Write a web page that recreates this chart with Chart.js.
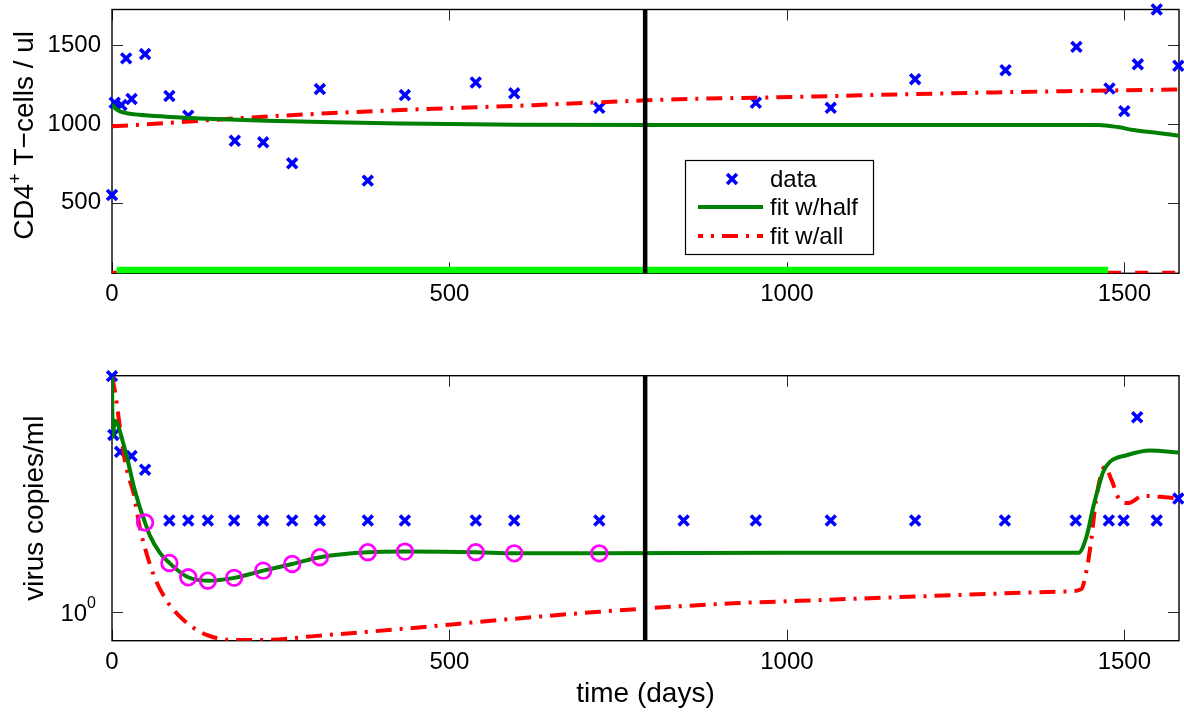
<!DOCTYPE html>
<html>
<head>
<meta charset="utf-8">
<title>CD4 and virus fits</title>
<script src="https://cdn.jsdelivr.net/npm/chart.js@4.4.1/dist/chart.umd.min.js"></script>
<style>
  body { margin: 0; background: #fff; }
  .panel { position: absolute; left: 0; }
</style>
</head>
<body>
<canvas id="cd4" class="panel" width="1184" height="340" style="top:0"></canvas>
<canvas id="virus" class="panel" width="1184" height="375" style="top:340px"></canvas>
<script>
// ---- values ----
const dayTicks = [0, 500, 1000, 1500];
const dayMax = 1581;
const splitDay = 790;        // black line: end of the "half" data
const therapyStart = 7;
const therapyEnd = 1476;

const cd4Ticks = [500, 1000, 1500];
const cd4Range = [52, 1726];
const cd4Days = [0, 4, 14, 21, 29, 49, 85, 113, 182, 224, 267, 308, 379, 434, 539, 596, 722, 954, 1065, 1190, 1324, 1429, 1478, 1500, 1520, 1548, 1580];
const cd4Vals = [549, 1134, 1120, 1416, 1158, 1443, 1177, 1052, 893, 883, 750, 1221, 640, 1183, 1263, 1194, 1102, 1134, 1102, 1284, 1341, 1489, 1225, 1081, 1378, 1726, 1369];
const cd4HalfDays = [0, 5, 12, 22, 40, 80, 130, 229, 328, 427, 600, 800, 1000, 1200, 1400, 1462, 1490, 1514, 1550, 1581];
const cd4HalfVals = [1122, 1098, 1080, 1068, 1058, 1046, 1035, 1020, 1010, 1003, 994, 993, 993, 993, 993, 993, 980, 961, 942, 925];
const cd4AllDays = [0, 50, 130, 250, 427, 624, 822, 1019, 1217, 1414, 1581];
const cd4AllVals = [985, 997, 1020, 1052, 1088, 1119, 1154, 1172, 1192, 1208, 1218];

const virusTicks = [1];
const virusRange = [0.848, 3.93];
const virusDays = [0, 2, 12, 29, 49, 85, 113, 142, 181, 224, 267, 308, 379, 434, 539, 596, 722, 847, 954, 1065, 1190, 1323, 1428, 1477, 1499, 1519, 1548, 1580];
const virusVals = [3.92, 2.79, 2.53, 2.47, 2.28, 1.7, 1.7, 1.7, 1.7, 1.7, 1.7, 1.7, 1.7, 1.7, 1.7, 1.7, 1.7, 1.7, 1.7, 1.7, 1.7, 1.7, 1.7, 1.7, 1.7, 3.09, 1.7, 1.93];
const censoredDays = [49, 85, 113, 142, 181, 224, 267, 308, 379, 434, 539, 596, 722];
const censoredFit = [1.68, 1.33, 1.224, 1.2, 1.22, 1.272, 1.322, 1.375, 1.415, 1.42, 1.415, 1.406, 1.406];
const virusHalfDays = [0, 1, 4, 8, 14, 22, 32, 41, 49, 56, 71, 85, 96, 113, 142, 181, 224, 267, 308, 379, 434, 539, 596, 722, 1000, 1432, 1444, 1454, 1462, 1469, 1479, 1503, 1538, 1581];
const virusHalfVals = [3.9, 2.76, 3.03, 2.98, 2.76, 2.46, 2.08, 1.84, 1.68, 1.56, 1.41, 1.33, 1.28, 1.224, 1.2, 1.22, 1.272, 1.322, 1.375, 1.415, 1.42, 1.415, 1.406, 1.406, 1.41, 1.41, 1.55, 1.84, 2.07, 2.26, 2.39, 2.48, 2.55, 2.52];
const virusAllDays = [0, 4, 12, 19, 26, 32, 41, 61, 81, 106, 140, 180, 229, 303, 427, 575, 723, 920, 1019, 1217, 1414, 1436, 1445, 1451, 1458, 1466, 1471, 1481, 1493, 1505, 1528, 1553, 1581];
const virusAllVals = [3.9, 3.62, 2.9, 2.41, 2.15, 1.99, 1.64, 1.25, 1.07, 0.956, 0.877, 0.852, 0.852, 0.872, 0.907, 0.956, 1.003, 1.053, 1.068, 1.099, 1.127, 1.142, 1.3, 1.52, 1.915, 2.235, 2.32, 2.15, 1.915, 1.88, 1.96, 1.95, 1.93];

const legendLabels = ["data", "fit w/half", "fit w/all"];

// ---- styling ----
const FONT = "'Liberation Sans', Arial, sans-serif";
const BLUE = "#0000ff", GREEN = "#008000", RED = "#ff0000", LIME = "#00ff00", MAGENTA = "#ff00ff";
const DASHDOT = [16, 8, 3, 8];

const pts = (xs, ys) => xs.map((x, i) => ({ x: x, y: ys[i] }));

function lineSet(data, color, width, dash) {
  return {
    data: data, borderColor: color, borderWidth: width, borderDash: dash || [],
    pointRadius: 0, showLine: true, fill: false, cubicInterpolationMode: "monotone", clip: 0
  };
}
function crossSet(data) {
  return {
    data: data, showLine: false, pointStyle: "crossRot", pointRadius: 7,
    pointBorderWidth: 3.6, pointBorderColor: BLUE, pointBackgroundColor: BLUE, clip: false
  };
}

// box with inward ticks on all four sides (matlab style)
function framePlugin(yTicks) {
  return {
    id: "frame",
    beforeDatasetsDraw(chart) {
      const ctx = chart.ctx, a = chart.chartArea, sx = chart.scales.x, sy = chart.scales.y;
      ctx.save();
      ctx.strokeStyle = "#262626";
      ctx.lineWidth = 1;
      ctx.beginPath();
      dayTicks.forEach(v => {
        const p = Math.round(sx.getPixelForValue(v)) + 0.5;
        ctx.moveTo(p, a.bottom); ctx.lineTo(p, a.bottom - 11);
        ctx.moveTo(p, a.top); ctx.lineTo(p, a.top + 11);
      });
      yTicks.forEach(v => {
        const p = Math.round(sy.getPixelForValue(v)) + 0.5;
        ctx.moveTo(a.left, p); ctx.lineTo(a.left + 11, p);
        ctx.moveTo(a.right, p); ctx.lineTo(a.right - 11, p);
      });
      ctx.stroke();
      ctx.strokeStyle = "#000";
      ctx.lineWidth = 1.4;
      ctx.strokeRect(a.left, a.top, a.right - a.left, a.bottom - a.top);
      ctx.restore();
    }
  };
}

function xScale(height, showLabels) {
  return {
    type: "linear", min: 0, max: dayMax,
    grid: { display: false, drawTicks: false }, border: { display: false },
    afterBuildTicks: s => { s.ticks = dayTicks.map(v => ({ value: v })); },
    afterFit: s => { s.height = height; s.paddingLeft = 0; s.paddingRight = 0; },
    ticks: { display: showLabels, color: "#000", padding: 7, maxRotation: 0, autoSkip: false,
             font: { family: FONT, size: 24 }, callback: v => String(v) }
  };
}

function yScale(type, range, ticks, showLabels) {
  return {
    type: type, min: range[0], max: range[1],
    grid: { display: false, drawTicks: false }, border: { display: false },
    afterBuildTicks: s => { s.ticks = ticks.map(v => ({ value: v })); },
    afterFit: s => { s.width = 112; s.paddingTop = 0; s.paddingBottom = 0; },
    ticks: { display: showLabels, color: "#000", padding: 11, autoSkip: false,
             font: { family: FONT, size: 24 }, callback: v => String(v) }
  };
}

// ---- top panel: CD4 ----
const cd4Titles = {
  id: "cd4Titles",
  afterDraw(chart) {
    const ctx = chart.ctx, a = chart.chartArea;
    ctx.save();
    ctx.fillStyle = "#000";
    ctx.translate(33, (a.top + a.bottom) / 2 - 6);
    ctx.rotate(-Math.PI / 2);
    ctx.textBaseline = "alphabetic";
    ctx.textAlign = "left";
    const big = "28px " + FONT, small = "18px " + FONT;
    ctx.font = big; const w1 = ctx.measureText("CD4").width;
    ctx.font = small; const w2 = ctx.measureText("+").width;
    ctx.font = big; const w3 = ctx.measureText(" T\u2212cells / ul").width;
    let x0 = -(w1 + w2 + w3) / 2;
    ctx.font = big; ctx.fillText("CD4", x0, 0);
    ctx.font = small; ctx.fillText("+", x0 + w1, -12);
    ctx.font = big; ctx.fillText(" T\u2212cells / ul", x0 + w1 + w2, 0);
    ctx.restore();
  }
};

const cd4Legend = {
  id: "cd4Legend",
  afterDatasetsDraw(chart) {
    const ctx = chart.ctx;
    const L = 685, T = 160, W = 188, H = 94;
    ctx.save();
    ctx.fillStyle = "#fff";
    ctx.fillRect(L, T, W, H);
    ctx.strokeStyle = "#000";
    ctx.lineWidth = 1.2;
    ctx.strokeRect(L + 0.5, T + 0.5, W, H);
    const rows = [T + 19, T + 47, T + 76];
    // data marker
    ctx.strokeStyle = BLUE; ctx.lineWidth = 3.6;
    const r = 7 * Math.SQRT1_2, cx = L + 47;
    ctx.beginPath();
    ctx.moveTo(cx - r, rows[0] - r); ctx.lineTo(cx + r, rows[0] + r);
    ctx.moveTo(cx - r, rows[0] + r); ctx.lineTo(cx + r, rows[0] - r);
    ctx.stroke();
    // lines
    ctx.lineWidth = 4;
    ctx.strokeStyle = GREEN;
    ctx.beginPath(); ctx.moveTo(L + 13, rows[1]); ctx.lineTo(L + 78, rows[1]); ctx.stroke();
    ctx.strokeStyle = RED; ctx.setLineDash(DASHDOT); ctx.lineDashOffset = 11;
    ctx.beginPath(); ctx.moveTo(L + 13, rows[2]); ctx.lineTo(L + 78, rows[2]); ctx.stroke();
    ctx.setLineDash([]);
    ctx.fillStyle = "#000";
    ctx.font = "24px " + FONT;
    ctx.textBaseline = "middle";
    legendLabels.forEach((t, i) => ctx.fillText(t, L + 85, rows[i] + 1));
    ctx.restore();
  }
};

new Chart(document.getElementById("cd4"), {
  type: "line",
  data: {
    datasets: [
      lineSet([{ x: splitDay, y: cd4Range[0] }, { x: splitDay, y: cd4Range[1] }], "#000", 4.5),
      lineSet(pts(cd4HalfDays, cd4HalfVals), GREEN, 4),
      lineSet(pts(cd4AllDays, cd4AllVals), RED, 4, DASHDOT),
      crossSet(pts(cd4Days, cd4Vals)),
      lineSet([{ x: therapyStart, y: cd4Range[0] }, { x: therapyEnd, y: cd4Range[0] }], LIME, 13),
      lineSet([{ x: 0, y: cd4Range[0] }, { x: therapyStart, y: cd4Range[0] }], RED, 5),
      lineSet([{ x: therapyEnd, y: cd4Range[0] }, { x: dayMax, y: cd4Range[0] }], RED, 5, [13, 14])
    ]
  },
  options: {
    responsive: false, animation: false, events: [],
    layout: { autoPadding: false, padding: { left: 0, top: 9.5, right: 5, bottom: 0 } },
    plugins: { legend: { display: false }, tooltip: { enabled: false } },
    scales: {
      x: xScale(340 - 273.3, true),
      y: yScale("linear", cd4Range, cd4Ticks, true)
    }
  },
  plugins: [framePlugin(cd4Ticks), cd4Legend, cd4Titles]
});

// ---- bottom panel: virus (log axis) ----
const virusTitles = {
  id: "virusTitles",
  afterDraw(chart) {
    const ctx = chart.ctx, a = chart.chartArea, sy = chart.scales.y;
    ctx.save();
    ctx.fillStyle = "#000";
    // 10^0 tick label
    const p = sy.getPixelForValue(virusTicks[0]);
    ctx.textAlign = "right";
    ctx.textBaseline = "alphabetic";
    ctx.font = "16px " + FONT;
    const supW = ctx.measureText("0").width;
    ctx.fillText("0", a.left - 16, p - 4);
    ctx.font = "24px " + FONT;
    ctx.fillText("10", a.left - 16 - supW, p + 9);
    // x title
    ctx.textAlign = "center";
    ctx.font = "28px " + FONT;
    ctx.fillText("time (days)", (a.left + a.right) / 2, 361.5);
    // y title
    ctx.translate(43, (a.top + a.bottom) / 2);
    ctx.rotate(-Math.PI / 2);
    ctx.fillText("virus copies/ml", 0, 0);
    ctx.restore();
  }
};

new Chart(document.getElementById("virus"), {
  type: "line",
  data: {
    datasets: [
      lineSet([{ x: splitDay, y: virusRange[0] }, { x: splitDay, y: virusRange[1] }], "#000", 4.5),
      {
        data: pts(censoredDays, censoredFit), showLine: false, pointStyle: "circle", pointRadius: 7.8,
        pointBorderWidth: 2.8, pointBorderColor: MAGENTA, pointBackgroundColor: "rgba(0,0,0,0)", clip: false
      },
      lineSet(pts(virusHalfDays, virusHalfVals), GREEN, 4),
      lineSet(pts(virusAllDays, virusAllVals), RED, 4, DASHDOT),
      crossSet(pts(virusDays, virusVals))
    ]
  },
  options: {
    responsive: false, animation: false, events: [],
    layout: { autoPadding: false, padding: { left: 0, top: 35.7, right: 5, bottom: 0 } },
    plugins: { legend: { display: false }, tooltip: { enabled: false } },
    scales: {
      x: xScale(375 - 300.7, true),
      y: yScale("logarithmic", virusRange, virusTicks, false)
    }
  },
  plugins: [framePlugin(virusTicks), virusTitles]
});
</script>
</body>
</html>
